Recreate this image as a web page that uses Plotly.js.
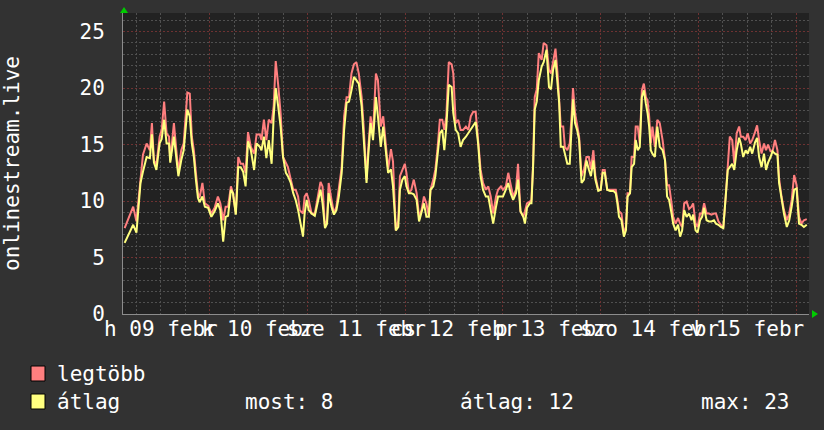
<!DOCTYPE html>
<html><head><meta charset="utf-8">
<script src="https://cdn.plot.ly/plotly-3.0.1.min.js"></script>
<style>html,body{margin:0;padding:0;background:#323232;}#chart{width:824px;height:430px;}</style>
</head><body><div id="chart"></div>
<script>
// hours since Mon 2015-02-09 00:00
const hours = [3.1,5.2,6.0,7.0,7.6,8.5,9.3,9.8,10.3,10.9,
11.7,12.2,12.8,13.4,14.0,14.3,15.2,15.8,16.3,17.0,
17.6,18.5,19.1,19.6,20.1,20.6,21.1,21.5,22.2,22.8,
23.6,24.4,25.2,26.0,26.6,27.3,27.9,28.5,29.2,29.7,
30.4,31.0,31.6,32.2,32.8,33.4,34.1,34.9,35.5,36.3,
36.7,37.3,37.9,38.5,39.2,39.7,40.2,40.8,41.4,42.0,
42.7,43.2,43.9,44.5,45.1,45.7,46.1,46.9,47.3,47.8,
48.3,49.0,49.8,50.6,51.2,51.7,52.3,52.8,53.2,53.9,
54.5,55.1,55.7,56.4,57.0,57.6,58.2,58.8,59.4,60.0,
60.6,61.3,61.8,62.5,62.9,63.5,64.1,64.8,65.3,66.0,
66.6,67.2,67.8,68.5,69.0,69.7,70.3,70.7,71.3,71.9,
72.3,72.9,73.5,74.1,74.8,75.4,76.0,76.6,77.2,77.8,
78.2,78.9,79.4,79.9,80.5,81.1,81.6,82.1,82.7,83.4,
83.8,84.4,85.0,85.6,86.2,86.9,87.5,88.1,88.7,89.3,
89.9,90.5,91.1,91.8,92.4,93.0,93.6,94.3,94.8,95.5,
96.0,96.7,97.3,97.9,98.5,99.2,99.7,100.3,101.0,101.4,
101.9,102.6,103.0,103.4,103.8,104.3,104.8,105.5,106.0,106.7,
107.3,107.8,108.3,108.9,109.4,109.8,110.2,110.8,111.2,111.8,
112.4,112.9,113.2,113.7,114.2,114.7,115.3,115.9,116.5,117.1,
117.6,118.2,118.7,119.4,120.0,120.5,121.0,121.6,122.3,123.1,
123.7,124.1,124.5,125.1,125.7,126.2,126.6,127.2,127.6,128.2,
128.6,129.1,129.6,130.1,130.6,131.1,131.5,131.9,132.3,132.7,
133.3,133.9,134.5,135.2,135.8,136.3,136.8,137.4,137.8,138.4,
139.0,139.5,140.0,140.5,141.1,141.7,142.3,142.7,143.3,143.8,
144.4,144.9,145.4,146.0,146.6,147.2,147.8,148.3,148.9,149.5,
150.1,150.7,151.2,151.7,152.3,152.8,153.4,154.0,154.4,155.0,
155.6,156.1,156.7,157.2,157.9,158.4,158.9,159.5,160.1,160.6,
161.1,161.7,162.2,162.8,163.4,163.8,164.4,165.0,165.7,166.3,
166.9,167.5,168.1,168.7,169.3,169.9,170.6];

const legtobb = [7.6,9.5,8.2,11.9,14.1,15.1,14.5,16.9,13.6,13.2,
15.7,16.3,18.8,16.0,15.7,13.6,16.9,14.5,12.6,14.5,
15.1,19.6,19.5,15.7,14.5,12.5,10.7,10.3,11.6,9.8,
9.6,8.9,9.4,10.4,9.8,8.3,9.5,9.5,11.3,10.7,
8.9,13.9,13.3,13.3,12.5,16.1,14.8,14.2,15.9,15.9,
15.4,17.2,15.4,17.2,16.9,18.4,22.4,20.3,17.8,13.9,
13.3,13.0,11.9,11.0,11.0,10.4,9.2,8.9,10.4,10.7,
10.1,8.9,8.9,10.4,11.7,11.3,7.7,8.3,11.6,10.1,
8.9,9.5,11.0,13.0,17.5,19.2,19.2,21.3,22.1,22.3,
21.3,19.2,16.6,11.9,14.5,17.5,16.0,21.3,20.7,16.6,
17.5,15.4,12.8,14.6,13.5,7.4,8.3,12.2,12.8,13.3,
12.5,10.7,11.0,11.9,10.7,8.6,9.2,10.4,9.8,8.6,
11.0,11.9,12.8,14.5,17.2,17.2,16.3,17.5,22.3,22.1,
21.3,16.9,17.2,16.3,16.3,16.6,16.3,17.5,17.9,17.9,
15.4,12.8,11.6,11.0,11.3,10.4,8.9,10.4,11.0,11.3,
11.0,11.3,12.5,11.3,10.4,11.0,13.3,9.1,8.6,9.1,
9.8,9.95,10.1,13.3,19.2,19.9,23.1,22.5,24.0,23.8,
21.6,21.3,22.5,23.5,21.3,19.2,16.6,16.6,14.8,14.5,
15.1,17.8,20.0,17.8,16.9,15.7,12.2,12.8,13.9,13.9,
12.8,14.5,12.2,11.0,11.0,12.75,12.75,11.0,11.0,11.0,
11.0,10.1,9.1,8.9,7.1,7.7,10.7,10.7,13.9,13.9,
16.6,16.6,15.1,19.8,20.4,19.2,18.9,17.5,15.1,16.6,
14.8,17.2,16.9,15.4,13.6,11.4,11.4,9.8,8.6,8.0,
8.5,8.0,7.7,9.8,9.95,9.3,9.5,9.8,8.0,7.7,
8.9,8.9,9.8,8.9,8.9,8.8,8.9,8.9,8.2,7.9,
7.6,10.4,13.0,15.7,15.4,13.3,16.0,16.6,15.7,15.7,
15.4,16.0,15.1,15.4,16.1,16.7,15.4,14.2,15.1,14.5,
15.0,14.4,14.4,15.4,14.5,12.0,10.4,9.2,8.3,8.9,
10.1,12.3,11.4,8.6,8.0,8.3,8.4];

const atlag = [6.3,7.9,7.2,11.6,12.6,13.9,13.8,15.9,13.4,12.75,
15.1,15.5,17.2,15.1,15.1,13.4,15.7,13.9,12.2,13.6,
14.5,18.1,17.5,15.1,13.9,11.9,10.3,9.9,10.4,9.5,
9.4,8.6,9.1,9.8,9.2,6.4,8.6,8.7,11.0,10.7,
8.8,13.0,13.0,12.6,11.3,15.3,14.5,12.75,15.1,14.8,
14.5,15.7,13.8,15.4,13.3,17.5,20.0,18.4,16.6,13.9,
12.5,12.2,11.6,10.7,10.1,9.2,8.3,6.85,8.9,10.1,
9.2,8.9,8.7,10.1,11.0,9.8,7.6,8.0,10.7,9.5,
8.8,9.2,10.4,12.5,16.3,18.7,18.8,19.8,21.0,20.7,
20.4,18.4,15.4,11.6,13.9,16.9,15.4,19.2,17.5,14.8,
16.6,14.2,12.5,12.8,11.3,7.4,7.7,11.0,11.9,12.2,
11.3,10.7,10.7,10.6,10.1,8.2,8.9,9.8,8.6,8.6,
11.0,11.3,12.2,14.2,16.0,16.3,14.5,16.6,20.3,20.1,
17.8,16.3,16.0,14.8,15.4,15.7,16.0,16.3,16.6,17.0,
15.1,12.2,11.0,10.4,10.4,9.2,8.0,9.5,10.4,10.4,
10.4,11.0,11.6,10.7,10.1,10.7,11.9,9.1,8.6,8.0,
9.4,9.8,9.8,13.0,18.1,18.8,20.7,21.9,22.3,23.4,
20.1,19.9,21.6,22.5,20.4,18.7,14.8,14.8,14.2,13.3,
13.3,16.9,19.0,16.9,16.3,15.4,11.6,11.9,13.6,12.8,
12.2,13.6,11.9,10.9,11.0,12.5,12.5,11.0,10.9,10.9,
10.7,9.8,8.6,8.3,6.85,7.4,10.4,10.7,13.0,13.3,
15.4,14.5,14.8,19.2,19.8,18.6,17.8,16.6,14.5,14.2,
13.9,16.6,14.8,14.5,13.6,10.4,10.1,8.9,8.0,7.4,
7.9,6.85,7.4,9.2,8.6,8.9,8.3,8.8,7.4,7.2,
8.3,8.6,9.4,8.3,8.2,8.2,8.3,8.0,7.9,7.7,
7.6,10.4,12.75,13.0,13.3,12.75,14.5,15.6,15.1,13.9,
14.5,14.2,14.8,14.2,15.2,15.6,13.9,13.0,14.2,12.75,
13.4,13.9,14.4,14.2,14.1,11.6,10.1,8.9,7.7,8.3,
9.5,11.0,11.1,8.0,7.9,7.7,7.9];

const dayTicks = [24,48,72,96,120,144,168];
const labelTicks = [12,36,60,84,108,132,156];
const labelText = ["h 09 febr","k 10 febr","sze 11 febr","cs 12 febr","p 13 febr","szo 14 febr","v 15 febr"];
const yTicks = [0,5,10,15,20,25];
const seriesNames = ["legtöbb","átlag"];
const seriesColors = ["#ff7f7f","#ffff7f"];
const summaryText = ["most: 8","átlag: 12","max: 23"];
const yTitle = "onlinestream.live";

const FONT = "DejaVu Sans Mono";
const font = {family: FONT, size: 21, color: "#ffffff"};
const xRange = [2.7, 171.15];

const traces = [
  {x: hours, y: legtobb, type: "scatter", mode: "lines", name: seriesNames[0],
   line: {color: seriesColors[0], width: 2}, xaxis: "x", yaxis: "y", hoverinfo: "skip"},
  {x: hours, y: atlag, type: "scatter", mode: "lines", name: seriesNames[1],
   line: {color: seriesColors[1], width: 2}, xaxis: "x2", yaxis: "y", hoverinfo: "skip"}
];

const px = v => (v - 123) / 686;
const py = v => (314 - v) / 301;

const MAJOR = "#6e3232";
const MINOR = "#505050";
const DASH = "2px,2px";

const layout = {
  width: 824, height: 430,
  paper_bgcolor: "#323232", plot_bgcolor: "#222222",
  margin: {l: 123, r: 15, t: 13, b: 116, pad: 0},
  showlegend: false,
  font: font,
  xaxis: {
    range: xRange, tickmode: "array", tickvals: dayTicks, showticklabels: false,
    ticks: "", showgrid: true, gridcolor: MAJOR, griddash: DASH, gridwidth: 1,
    minor: {tickmode: "linear", tick0: 0, dtick: 6, showgrid: true, gridcolor: MINOR, griddash: DASH, gridwidth: 1},
    zeroline: false, showline: true, linecolor: "#8c8c8c", linewidth: 1, automargin: false, fixedrange: true
  },
  xaxis2: {
    range: xRange, overlaying: "x", anchor: "y", side: "bottom",
    tickmode: "array", tickvals: labelTicks, ticktext: labelText, tickangle: 0,
    ticks: "", showgrid: false, zeroline: false, showline: false,
    tickfont: font, automargin: false, fixedrange: true
  },
  yaxis: {
    range: [0, 26.65], tickmode: "array", tickvals: yTicks, ticks: "",
    showgrid: true, gridcolor: MAJOR, griddash: DASH, gridwidth: 1,
    minor: {tickmode: "linear", tick0: 0, dtick: 1, showgrid: true, gridcolor: MINOR, griddash: DASH, gridwidth: 1},
    zeroline: false, showline: true, linecolor: "#8c8c8c", linewidth: 1,
    tickfont: font, ticklabelstandoff: 13, automargin: false, fixedrange: true,
    title: {text: yTitle, font: font, standoff: 56}
  },
  shapes: [
    {type: "path", xref: "paper", yref: "paper", path: `M ${px(120)},${py(13)} L ${px(128)},${py(13)} L ${px(124)},${py(7)} Z`, fillcolor: "#00cc00", line: {width: 0}},
    {type: "path", xref: "paper", yref: "paper", path: `M ${px(812)},${py(310)} L ${px(812)},${py(318)} L ${px(818)},${py(314)} Z`, fillcolor: "#00cc00", line: {width: 0}},
    {type: "rect", xref: "paper", yref: "paper", x0: px(31), x1: px(45), y0: py(381), y1: py(366), fillcolor: seriesColors[0], line: {color: "#000000", width: 1}},
    {type: "rect", xref: "paper", yref: "paper", x0: px(31), x1: px(45), y0: py(409), y1: py(394), fillcolor: seriesColors[1], line: {color: "#000000", width: 1}}
  ],
  annotations: [
    {xref: "paper", yref: "paper", x: px(55), y: py(374), xanchor: "left", yanchor: "middle", text: seriesNames[0], showarrow: false, font: font},
    {xref: "paper", yref: "paper", x: px(55), y: py(402), xanchor: "left", yanchor: "middle", text: seriesNames[1], showarrow: false, font: font},
    {xref: "paper", yref: "paper", x: px(243), y: py(402), xanchor: "left", yanchor: "middle", text: summaryText[0], showarrow: false, font: font},
    {xref: "paper", yref: "paper", x: px(458), y: py(402), xanchor: "left", yanchor: "middle", text: summaryText[1], showarrow: false, font: font},
    {xref: "paper", yref: "paper", x: px(699), y: py(402), xanchor: "left", yanchor: "middle", text: summaryText[2], showarrow: false, font: font}
  ]
};

Plotly.newPlot("chart", traces, layout, {displayModeBar: false, staticPlot: true});
</script>
</body></html>
